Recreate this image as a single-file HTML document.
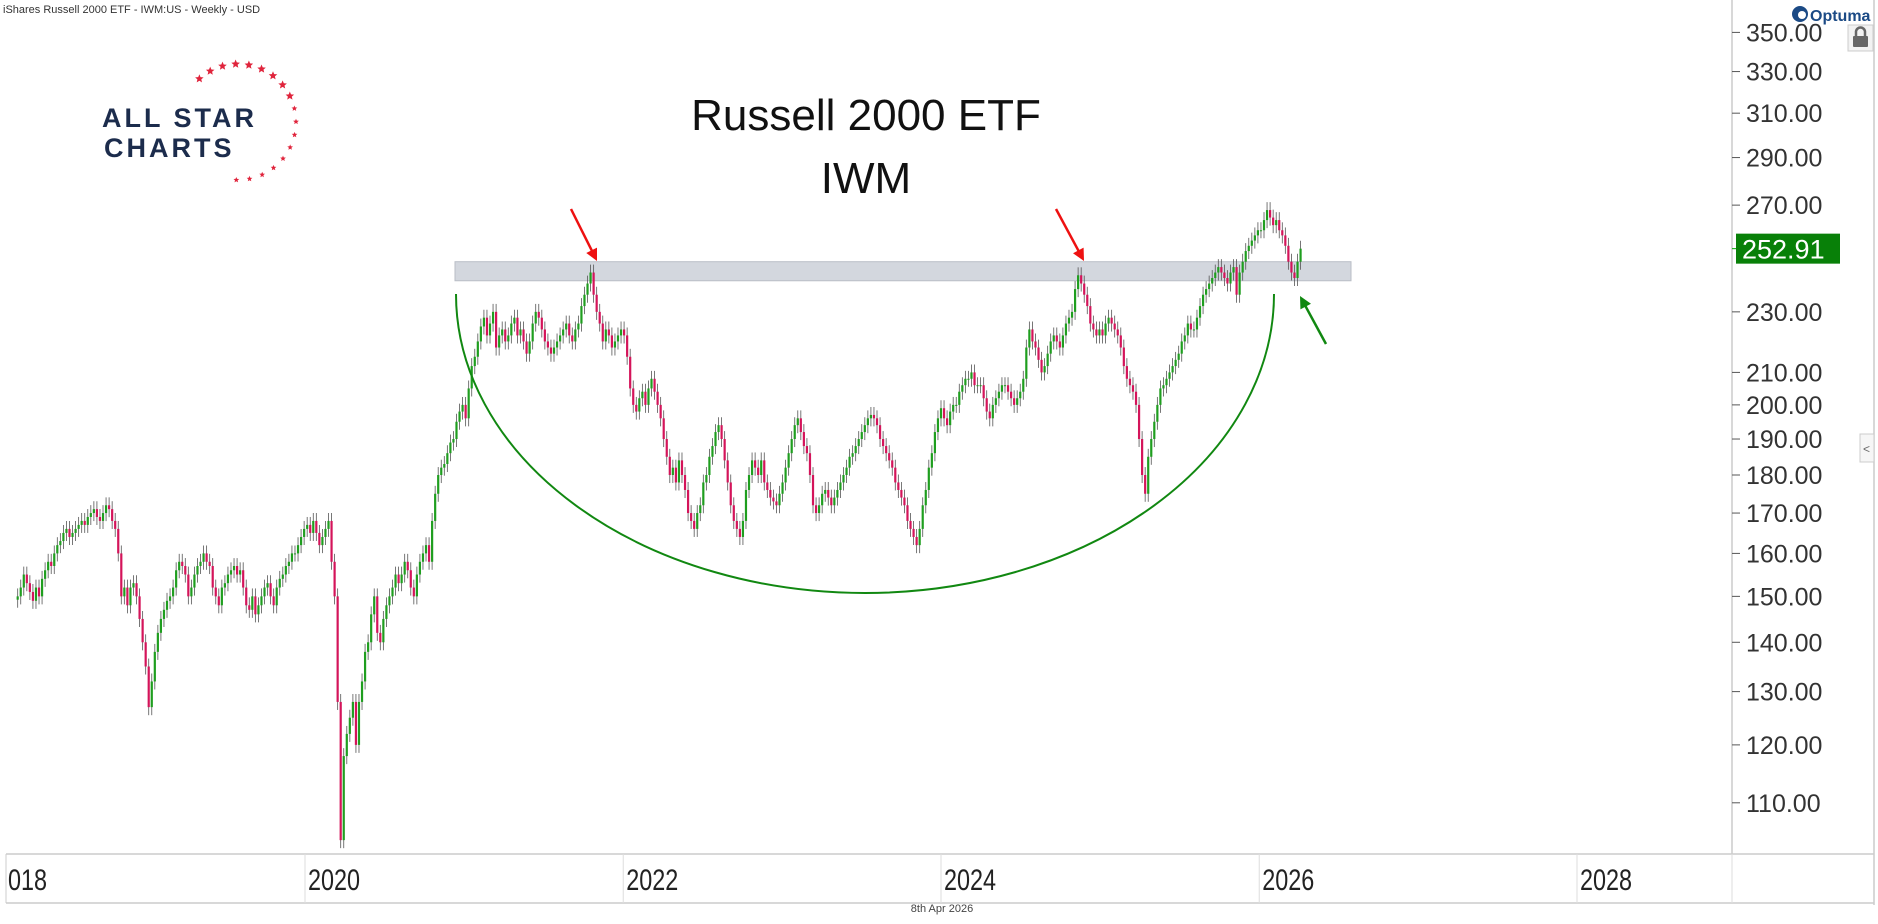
<!DOCTYPE html>
<html><head><meta charset="utf-8"><style>
body{margin:0;background:#fff;width:1878px;height:924px;overflow:hidden;font-family:"Liberation Sans",sans-serif}
svg{display:block}
</style></head><body>
<svg id="chart" width="1878" height="924" xmlns="http://www.w3.org/2000/svg">
<rect x="0" y="0" width="1878" height="924" fill="#fff"/>
<text x="3" y="13" font-size="11" fill="#333">iShares Russell 2000 ETF - IWM:US - Weekly - USD</text>
<g>
<circle cx="1800" cy="14" r="8" fill="#1b4a85"/><circle cx="1802" cy="15" r="4" fill="#fff"/>
<text x="1810" y="21" font-size="16" font-weight="bold" fill="#1b4a85">Optuma</text></g>
<g>
<rect x="1848" y="25" width="25" height="26" fill="#f2f2f2" stroke="#ccc"/>
<rect x="1853" y="36" width="15" height="11" rx="1" fill="#666"/>
<path d="M1856 36v-4a4.5 4.5 0 0 1 9 0v4" fill="none" stroke="#666" stroke-width="2.5"/></g>
<g id="plot"></g>
<g>
<text x="102" y="127" font-size="27" font-weight="bold" fill="#1c2c4c" letter-spacing="3">ALL STAR</text>
<text x="104" y="157" font-size="27" font-weight="bold" fill="#1c2c4c" letter-spacing="3">CHARTS</text>
<g id="stars" fill="#e0243c"></g></g>
<text x="866" y="130" font-size="44" text-anchor="middle" fill="#111">Russell 2000 ETF</text>
<text x="866" y="193" font-size="44" text-anchor="middle" fill="#111">IWM</text>
<line x1="1732" y1="0" x2="1732" y2="854" stroke="#ccc" stroke-width="1.5"/>
<line x1="1874" y1="0" x2="1874" y2="905" stroke="#ccc" stroke-width="1.5"/>
<line x1="6" y1="854" x2="1874" y2="854" stroke="#ccc" stroke-width="1.5"/>
<line x1="6" y1="903" x2="1874" y2="903" stroke="#ccc" stroke-width="1.5"/>
<line x1="6" y1="854" x2="6" y2="903" stroke="#ccc"/>
<g id="yaxis"></g>
<g id="xaxis"></g>
<g><rect x="1860" y="434" width="14" height="28" fill="#f6f6f6" stroke="#ccc"/><text x="1863" y="453" font-size="12" fill="#666">&lt;</text></g>
<text x="942" y="912" font-size="11" text-anchor="middle" fill="#444">8th Apr 2026</text>
</svg>
<script>
const yTicks=[110,120,130,140,150,160,170,180,190,200,210,230,270,290,310,330,350];
const xTickYears=[2018,2020,2022,2024,2026,2028];
const lastPrice=252.91;
const resistance=[241,248];
const closes2018=[150,152,155,153,151,149,152,150,154,156,158,157,160,162,163,165,166,164,165,166,167,168,167,169,170,171,169,168,170,172,171,168,166,160,150,152,148,152,153,150,145,140,135,127];
const closes2019=[132,138,142,145,147,149,150,152,156,158,157,155,150,152,155,157,158,160,158,157,152,150,148,152,153,155,156,157,155,156,152,148,147,150,146,148,150,152,153,150,148,152,154,155,157,158,160,160,162,164,166,167];
const closes2020=[165,168,165,162,164,166,168,158,150,128,104,118,122,125,128,120,128,132,138,140,146,150,142,140,145,148,150,152,155,153,155,158,156,152,150,155,158,160,162,158,168,175,180,182,183,186,189,190,195,198,200,196];
const closes2021=[205,212,215,220,225,228,222,226,230,218,222,224,220,222,226,228,222,224,220,216,220,226,230,228,224,220,218,216,218,220,222,224,226,222,220,224,226,232,236,240,244,236,230,226,220,224,222,218,220,222,224,222];
const closes2022=[215,205,200,198,202,204,200,205,208,204,200,196,190,185,180,182,178,184,180,176,170,168,166,170,172,178,180,185,188,192,194,190,184,178,172,168,166,164,168,176,180,184,182,180,184,178,176,174,173,172,175,178];
const closes2023=[182,186,190,194,196,192,188,186,180,172,170,172,175,176,174,172,174,176,178,180,182,185,186,188,190,192,194,196,197,196,194,190,188,186,184,182,178,176,174,172,168,166,164,162,166,172,176,182,186,192,196,199];
const closes2024=[196,194,198,200,200,204,206,208,208,210,206,206,206,202,198,196,200,202,204,206,206,204,202,200,202,204,208,218,224,220,218,214,210,212,216,220,222,220,218,222,226,228,230,238,243,240,236,232,226,224,222,224];
const closes2025=[222,226,228,226,224,222,218,212,208,206,204,200,190,180,175,185,190,195,200,205,206,208,210,212,214,216,220,222,226,224,224,228,232,236,238,240,242,244,246,244,242,240,244,246,236,244,248,252,254,256,258,260];
const closes2026=[260,264,268,265,262,264,260,258,254,248,244,242,248,252.91];
const closes=[].concat(closes2018,closes2019,closes2020,closes2021,closes2022,closes2023,closes2024,closes2025,closes2026);

const NS='http://www.w3.org/2000/svg';
function mk(t,a,p){const e=document.createElementNS(NS,t);for(const k in a)e.setAttribute(k,a[k]);(p||document.getElementById('chart')).appendChild(e);return e;}
const y=v=>802.8-665.6*Math.log(v/110);
const DAY=318/730.5, T2020=Date.UTC(2020,0,1);
const xd=t=>305+(t-T2020)/86400000*DAY;
const lastT=Date.UTC(2026,3,6);
const plot=document.getElementById('plot');

// resistance band
const band=mk('rect',{x:455,y:y(resistance[1]),width:896,height:y(resistance[0])-y(resistance[1]),fill:'#d3d7de',stroke:'#b9bec6'},plot);



// candles
const N=closes.length;
for(let i=0;i<N;i++){
  const c=closes[i], o=i>0?closes[i-1]:c*0.995;
  const hi=Math.max(o,c)*1.012, lo=Math.min(o,c)*0.988;
  const x=xd(lastT-(N-1-i)*7*86400000);
  const col=c>=o?'#1f9e1f':'#d4145a';
  const g=mk('g',{},plot);
  
  
  mk('line',{x1:x,x2:x,y1:y(hi),y2:Math.min(y(lo),854),stroke:'#555','stroke-width':0.8},g);
  const top=y(Math.max(o,c)), bh=Math.max(1,y(Math.min(o,c))-top);
  mk('rect',{x:x-1.1,y:top,width:2.2,height:bh,fill:col},g);
}

// cup arc
const arc=mk('path',{d:'M456 294 A409 299 0 0 0 1274 294',fill:'none',stroke:'#118811','stroke-width':2});


function arrow(x1,y1,x2,y2,col,name){
  const g=mk('g',{});
  
  
  const a=Math.atan2(y2-y1,x2-x1),L=12;
  mk('line',{x1:x1,y1:y1,x2:x2-Math.cos(a)*8,y2:y2-Math.sin(a)*8,stroke:col,'stroke-width':2.5},g);
  const p=[[x2,y2],[x2-L*Math.cos(a)+6*Math.sin(a),y2-L*Math.sin(a)-6*Math.cos(a)],[x2-L*Math.cos(a)-6*Math.sin(a),y2-L*Math.sin(a)+6*Math.cos(a)]];
  mk('polygon',{points:p.map(q=>q.join(',')).join(' '),fill:col},g);
}
arrow(571,209,597,261,'#ee1111','red-arrow-2021');
arrow(1056,209,1084,261,'#ee1111','red-arrow-2024');
arrow(1326,344,1300,296,'#118811','green-arrow');

// y axis
const ya=document.getElementById('yaxis');
yTicks.forEach(v=>{
  const yy=y(v);
  mk('line',{x1:1732,x2:1740,y1:yy,y2:yy,stroke:'#555'},ya);
  const t=mk('text',{x:1746,y:yy+9,'font-size':25,fill:'#333'},ya);
  
  
  t.textContent=v.toFixed(2);
});
const tag=mk('g',{},ya);


const ly=y(lastPrice);
mk('line',{x1:1732,x2:1736,y1:ly,y2:ly,stroke:'#0a0'},tag);
mk('rect',{x:1736,y:ly-15,width:104,height:30,fill:'#088008'},tag);
const lt=mk('text',{x:1742,y:ly+10,'font-size':27,fill:'#fff'},tag);
lt.textContent=lastPrice.toFixed(2);

// x axis
const xa=document.getElementById('xaxis');
xTickYears.forEach(yr=>{
  const x=xd(Date.UTC(yr,0,1));
  if(yr>2018) mk('line',{x1:x,x2:x,y1:854,y2:903,stroke:'#ddd'},xa);
  const t=mk('text',{x:0,y:0,'font-size':30,fill:'#222',transform:`translate(${x+3},890) scale(0.78,1)`},xa);
  
  
  t.textContent=yr===2018?'018':String(yr);
  if(yr===2018)t.setAttribute('transform','translate(8,890) scale(0.78,1)');
});
mk('line',{x1:1732,x2:1732,y1:854,y2:903,stroke:'#ddd'},xa);

// logo stars
const st=document.getElementById('stars');
for(let i=0;i<18;i++){
  const a=-2.3+i*(3.9/17);
  const cx=238+Math.cos(a)*58, cy=122+Math.sin(a)*58;
  const s=i<9?4.5:3;
  const pts=[];
  for(let k=0;k<10;k++){const r=k%2?s*0.45:s;const b=-Math.PI/2+k*Math.PI/5;pts.push((cx+r*Math.cos(b)).toFixed(1)+','+(cy+r*Math.sin(b)).toFixed(1));}
  mk('polygon',{points:pts.join(' ')},st);
}
</script>
</body></html>
